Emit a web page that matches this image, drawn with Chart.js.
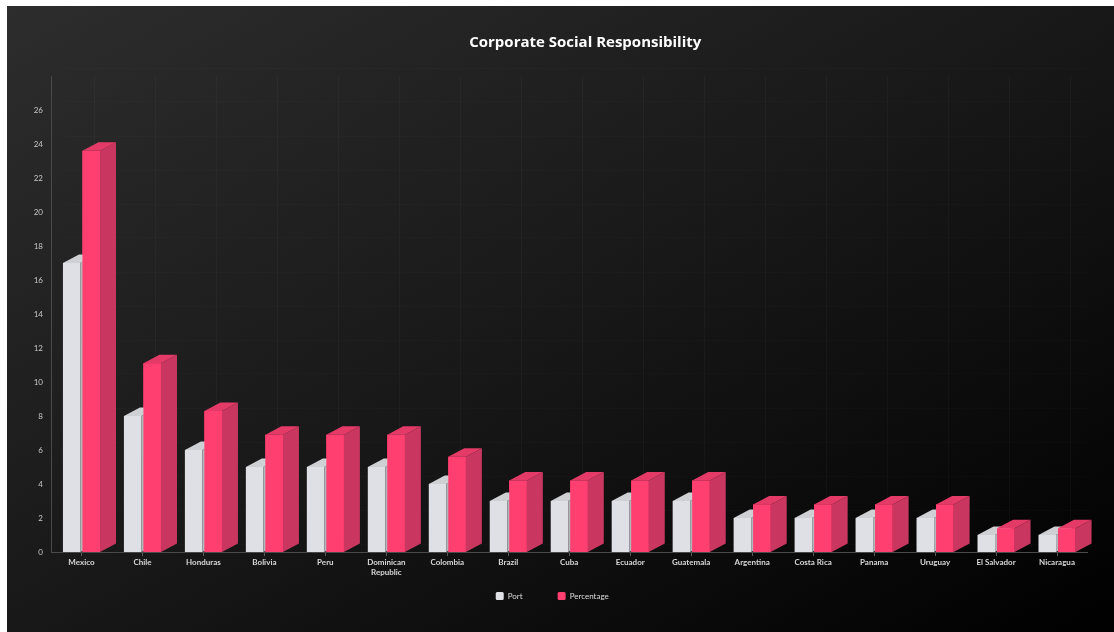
<!DOCTYPE html>
<html>
<head>
<meta charset="utf-8">
<script src="https://cdn.jsdelivr.net/npm/chart.js@4.4.1/dist/chart.umd.min.js"></script>
<style>
  html, body { margin: 0; padding: 0; background: #ffffff; width: 1114px; height: 632px; overflow: hidden; }
  #wrap { position: absolute; left: 7px; top: 6px; width: 1107px; height: 626px;
          background: linear-gradient(to bottom right, #2d2d2d 0%, #181818 50%, #000000 100%); }
  canvas { display: block; }
</style>
</head>
<body>
<div id="wrap"><canvas id="c" width="1107" height="626"></canvas></div>
<script>
const TITLE = 'Corporate Social Responsibility';
const categories = ['Mexico', 'Chile', 'Honduras', 'Bolivia', 'Peru', ['Dominican', 'Republic'], 'Colombia',
  'Brazil', 'Cuba', 'Ecuador', 'Guatemala', 'Argentina', 'Costa Rica', 'Panama', 'Uruguay', 'El Salvador', 'Nicaragua'];
const portValues = [17, 8, 6, 5, 5, 5, 4, 3, 3, 3, 3, 2, 2, 2, 2, 1, 1];
const percentageValues = [23.6, 11.1, 8.3, 6.9, 6.9, 6.9, 5.6, 4.2, 4.2, 4.2, 4.2, 2.8, 2.8, 2.8, 2.8, 1.4, 1.4];
const seriesNames = ['Port', 'Percentage'];
const yTickMax = 26;

const DX = 16, DY = 8.5;
const FACES = [
  { front: '#dfe0e5', side: '#b4b5ba', top: '#cfd0d4' },
  { front: '#ff3f70', side: '#c93761', top: '#e43a68' }
];

const depth3d = {
  id: 'depth3d',
  afterLayout(chart) {
    const t = chart.titleBlock;
    if (t) { t.left += 38; t.right += 38; }
    const l = chart.legend;
    if (l) { l.left += 5; l.right += 5; l.top -= 20; l.bottom -= 20; }
  },
  beforeDatasetsDraw(chart) {
    const { ctx, chartArea: a, scales: { x, y } } = chart;
    ctx.save();
    ctx.lineWidth = 1;
    ctx.strokeStyle = 'rgba(255,255,255,0.03)';
    for (let i = 0; i < x.ticks.length; i++) {
      const px = Math.round(x.getPixelForTick(i) + 13) + 0.5;
      ctx.beginPath(); ctx.moveTo(px, a.top); ctx.lineTo(px, a.bottom - DY); ctx.stroke();
    }
    ctx.strokeStyle = 'rgba(255,255,255,0.015)';
    y.ticks.forEach(t => {
      const py = Math.round(y.getPixelForValue(t.value) - DY) + 0.5;
      ctx.beginPath(); ctx.moveTo(a.left + DX, py); ctx.lineTo(a.right, py); ctx.stroke();
    });
    ctx.restore();
  },
  afterDatasetsDraw(chart) {
    const ctx = chart.ctx;
    const metas = [chart.getDatasetMeta(0), chart.getDatasetMeta(1)];
    const n = chart.data.labels.length;
    ctx.save();
    for (let i = 0; i < n; i++) {
      metas.forEach((meta, d) => {
        const el = meta.data[i];
        if (!el) return;
        const p = el.getProps(['x', 'y', 'base', 'width'], true);
        const l = p.x - p.width / 2, r = p.x + p.width / 2;
        const c = FACES[d];
        if (d > 0) { ctx.fillStyle = c.front; ctx.fillRect(l, p.y, p.width, p.base - p.y); }
        ctx.fillStyle = c.side;
        ctx.beginPath();
        ctx.moveTo(r, p.base); ctx.lineTo(r + DX, p.base - DY);
        ctx.lineTo(r + DX, p.y - DY); ctx.lineTo(r, p.y); ctx.closePath(); ctx.fill();
        ctx.fillStyle = c.top;
        ctx.beginPath();
        ctx.moveTo(l, p.y); ctx.lineTo(r, p.y);
        ctx.lineTo(r + DX, p.y - DY); ctx.lineTo(l + DX, p.y - DY); ctx.closePath(); ctx.fill();
      });
    }
    ctx.restore();
  }
};

new Chart(document.getElementById('c'), {
  type: 'bar',
  data: {
    labels: categories,
    datasets: [
      { label: seriesNames[0], data: portValues, backgroundColor: FACES[0].front, borderWidth: 0,
        categoryPercentage: 0.64, barPercentage: 0.9 },
      { label: seriesNames[1], data: percentageValues, backgroundColor: FACES[1].front, borderWidth: 0,
        categoryPercentage: 0.64, barPercentage: 0.9 }
    ]
  },
  options: {
    responsive: false,
    devicePixelRatio: 1,
    animation: false,
    events: [],
    layout: { padding: { left: 0, right: 26.5, top: 0, bottom: 2 } },
    plugins: {
      title: {
        display: true, text: TITLE, color: '#ffffff',
        font: { family: 'Open Sans', size: 15, weight: 'bold' },
        padding: { top: 28, bottom: 24 }
      },
      legend: {
        position: 'bottom',
        labels: {
          color: '#dddddd', font: { family: 'Lato', size: 8 },
          boxWidth: 8, boxHeight: 8, padding: 35, useBorderRadius: true, borderRadius: 1.5
        }
      },
      tooltip: { enabled: false }
    },
    scales: {
      x: {
        grid: { display: true, drawOnChartArea: false, drawTicks: true, tickLength: 4, offset: false, tickColor: '#5a5a5a' },
        border: { display: true, color: '#4a4a4a' },
        ticks: { color: '#d8d8d8', font: { family: 'Lato', size: 8, weight: 'bold', lineHeight: 1.25 },
                 padding: 1, maxRotation: 0, autoSkip: false },
        afterFit(s) { s.height = 25; }
      },
      y: {
        min: 0, max: 28,
        grid: { display: false },
        border: { display: true, color: '#4a4a4a' },
        ticks: { stepSize: 2, color: '#c8c8c8', font: { family: 'Lato', size: 8 }, padding: 0,
                 callback: v => (v > yTickMax ? '' : v) },
        afterFit(s) { s.width = 44; }
      }
    }
  },
  plugins: [depth3d]
});
</script>
</body>
</html>
